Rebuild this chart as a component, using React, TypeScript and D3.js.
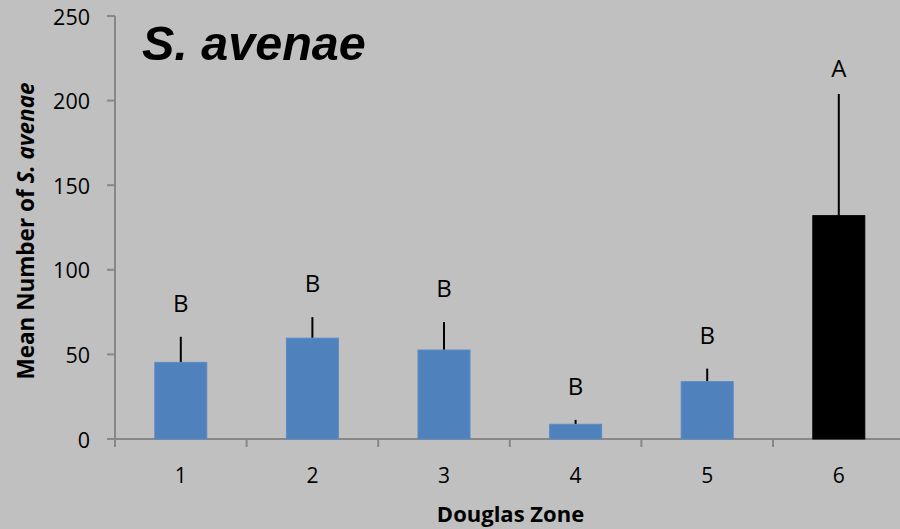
import React from "react";
import * as d3 from "d3";

const zones = ["1", "2", "3", "4", "5", "6"];
const means = [45.3, 59.6, 52.6, 8.7, 33.9, 132.0];
const upperErr = [60.4, 72.0, 69.1, 11.3, 41.6, 203.9];
const letters = ["B", "B", "B", "B", "B", "A"];
const highlight = [false, false, false, false, false, true];
const yTicks = [0, 50, 100, 150, 200, 250];

const W = 900;
const H = 529;
const left = 115;
const bottom = 439;
const top = 16;
const bandRight = 115 + 6 * 131.6;

export default function App() {
  const x = d3.scaleBand<string>().domain(zones).range([left, bandRight]).paddingInner(0.605).paddingOuter(0.3025);
  const step = x.step();
  const y = d3.scaleLinear().domain([0, 250]).range([bottom, top]);
  const font = "'Open Sans', 'Noto Sans', sans-serif";
  const axisColor = "#878787";

  return (
    <svg width={W} height={H} style={{ position: "absolute", left: 0, top: 0 }} fontFamily={font}>
      <rect x={0} y={0} width={W} height={H} fill="#c0c0c0" />
      {/* y axis */}
      <line x1={left} x2={left} y1={y(250)} y2={bottom} stroke={axisColor} strokeWidth={2} />
      {yTicks.map((t) => (
        <g key={t}>
          <line x1={left - 8} x2={left} y1={y(t)} y2={y(t)} stroke={axisColor} strokeWidth={2} />
          <text x={90} y={y(t)} dy="0.4em" textAnchor="end" fontSize={21.5} fill="#000">
            {t}
          </text>
        </g>
      ))}
      {/* x axis */}
      <line x1={left} x2={W} y1={bottom} y2={bottom} stroke={axisColor} strokeWidth={2} />
      {zones.map((z, i) => (
        <line key={"t" + z} x1={left + i * step} x2={left + i * step} y1={bottom} y2={bottom + 8} stroke={axisColor} strokeWidth={2} />
      ))}
      {/* bars */}
      {zones.map((z, i) => {
        const bx = x(z)!;
        const bw = x.bandwidth();
        const cx = bx + bw / 2;
        return (
          <g key={"b" + z}>
            <line x1={cx} x2={cx} y1={y(means[i])} y2={y(upperErr[i])} stroke="#000" strokeWidth={2} />
            <rect
              x={bx}
              y={y(means[i])}
              width={bw}
              height={bottom - y(means[i])}
              fill={highlight[i] ? "#000" : "#4f81bd"}
              stroke={highlight[i] ? "#000" : "#5b8ac4"}
              strokeWidth={1}
            />
            <text x={cx} y={y(upperErr[i]) - (highlight[i] ? 17 : 25)} textAnchor="middle" fontSize={24} fill="#000">
              {letters[i]}
            </text>
            <text x={cx} y={475} dy="0.36em" textAnchor="middle" fontSize={21} fill="#000">
              {z}
            </text>
          </g>
        );
      })}
      {/* titles */}
      <text x={142} y={60} fontSize={48.5} fontWeight="bold" fontStyle="italic" fontFamily="'Liberation Sans', Arial, sans-serif" fill="#000">
        S. avenae
      </text>
      <text x={510.5} y={522} textAnchor="middle" fontSize={22} fontWeight="bold" fill="#000">
        Douglas Zone
      </text>
      <text
        transform={`translate(34, 231) rotate(-90)`}
        textAnchor="middle"
        fontSize={22.5}
        fontWeight="bold"
        fill="#000"
      >
        Mean Number of <tspan fontStyle="italic">S. avenae</tspan>
      </text>
    </svg>
  );
}
